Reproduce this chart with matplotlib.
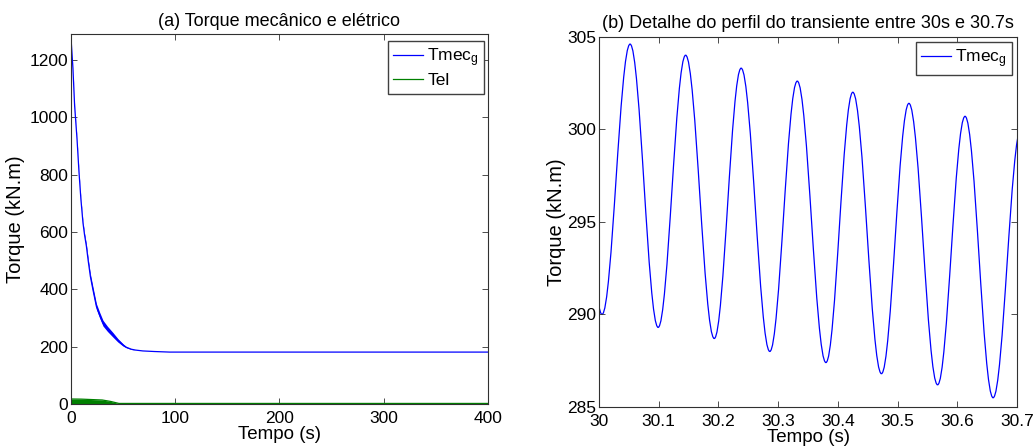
import numpy as np
import matplotlib
matplotlib.use('Agg')
import matplotlib.pyplot as plt
from matplotlib.path import Path
from matplotlib.patches import PathPatch

plt.rcParams['font.family'] = ['Liberation Sans', 'DejaVu Sans']
plt.rcParams['font.size'] = 12.5
plt.rcParams['mathtext.default'] = 'regular'

# (a) curva do torque mecanico
t_mec = [0.0, 0.4, 1.9, 3.5, 5.8, 7.7, 9.5, 11.5, 13.0, 14.8, 16.5, 18.6, 21.0, 24.4, 27.5,
         30.7, 35.0, 40.3, 45.0, 49.9, 53.0, 57.9, 62.0, 69.0, 80.0, 94.7, 150.0, 250.0, 400.0]
tmec = [1290, 1256, 1169, 1040, 924, 808, 715, 632, 590, 550, 500, 445, 400, 340, 310,
        282, 262, 241, 222, 206, 198, 191, 188, 185, 183, 181, 181, 181, 181]
# meia amplitude da oscilacao visivel na curva
tmec_osc = [0, 0, 2, 3, 3, 4, 4, 5, 6, 7, 8, 9, 10, 10, 10,
            10, 9, 8, 6, 4, 2, 1, 0, 0, 0, 0, 0, 0, 0]

# envelope do torque eletrico
t_el = [0.0, 10.0, 20.0, 30.0, 38.0, 43.0, 46.0, 60.0, 400.0]
tel = [17.5, 17.0, 15.5, 14.0, 9.0, 4.6, 2.0, 2.0, 2.0]

# (b) extremos do transiente entre 30 e 30.7 s
t_ext = [29.958, 30.005, 30.052, 30.099, 30.145, 30.193, 30.238, 30.286, 30.332,
         30.380, 30.425, 30.473, 30.519, 30.567, 30.613, 30.660, 30.707]
v_ext = [305.3, 290.0, 304.6, 289.3, 304.0, 288.7, 303.3, 288.0, 302.6,
         287.4, 302.0, 286.8, 301.4, 286.2, 300.7, 285.5, 300.1]

blue = '#0000ff'
green = '#008000'

fig = plt.figure(figsize=(10.33, 4.48), dpi=100)
ax1 = fig.add_axes([0.0687, 0.0982, 0.4037, 0.8259])
ax2 = fig.add_axes([0.5799, 0.0915, 0.4046, 0.8266])

leg_kw = dict(fancybox=False, edgecolor='#404040', framealpha=1, fontsize=12.5,
              handlelength=1.7, handletextpad=0.25, borderaxespad=0, borderpad=0.3,
              labelspacing=0.25, loc='upper right')

# --- painel (a)
up = np.array(tmec) + np.array(tmec_osc)
lo = np.array(tmec) - np.array(tmec_osc)
ax1.fill_between(t_mec, lo, up, color=blue, lw=0)
ax1.plot(t_mec, tmec, color=blue, lw=0.9, label='Tmec$_g$')
ax1.fill_between(t_el, 0, tel, color=green, lw=0)
ax1.plot(t_el, tel, color=green, lw=0.9, label='Tel')
ax1.set_xlim(0, 400)
ax1.set_ylim(0, 1290)
ax1.set_xticks([0, 100, 200, 300, 400])
ax1.set_yticks([0, 200, 400, 600, 800, 1000, 1200])
ax1.set_title('(a) Torque mecânico e elétrico', fontsize=13, pad=6)
ax1.set_xlabel('Tempo (s)', fontsize=13.5, labelpad=0)
ax1.set_ylabel('Torque (kN.m)', fontsize=14.5, labelpad=3)
ax1.legend(bbox_to_anchor=(0.9904, 0.981), **leg_kw)

# --- painel (b): meias ondas suaves entre extremos (curvas de Bezier)
k = 0.364
verts = [(t_ext[0], v_ext[0])]
codes = [Path.MOVETO]
for i in range(len(t_ext) - 1):
    x0, y0 = t_ext[i], v_ext[i]
    x1, y1 = t_ext[i + 1], v_ext[i + 1]
    dx = x1 - x0
    verts += [(x0 + k * dx, y0), (x1 - k * dx, y1), (x1, y1)]
    codes += [Path.CURVE4] * 3
ax2.add_patch(PathPatch(Path(verts, codes), fill=False, edgecolor=blue, lw=0.9))
ax2.plot([], [], color=blue, lw=0.9, label='Tmec$_g$')
ax2.set_xlim(30, 30.7)
ax2.set_ylim(285, 305)
ax2.set_xticks([30, 30.1, 30.2, 30.3, 30.4, 30.5, 30.6, 30.7])
ax2.set_xticklabels(['30', '30.1', '30.2', '30.3', '30.4', '30.5', '30.6', '30.7'])
ax2.set_yticks([285, 290, 295, 300, 305])
ax2.set_title('(b) Detalhe do perfil do transiente entre 30s e 30.7s', fontsize=13, pad=6)
ax2.set_xlabel('Tempo (s)', fontsize=13.5, labelpad=0)
ax2.set_ylabel('Torque (kN.m)', fontsize=14.5, labelpad=1)
ax2.legend(bbox_to_anchor=(0.988, 0.9857), **leg_kw)

for ax in (ax1, ax2):
    ax.tick_params(direction='in', top=True, right=True, length=4, width=0.6,
                   color='#303030', pad=2)
    ax.tick_params(axis='x', pad=5)
    for s in ax.spines.values():
        s.set_color('#303030')
        s.set_linewidth(0.8)

fig.savefig('out.png', dpi=100)
